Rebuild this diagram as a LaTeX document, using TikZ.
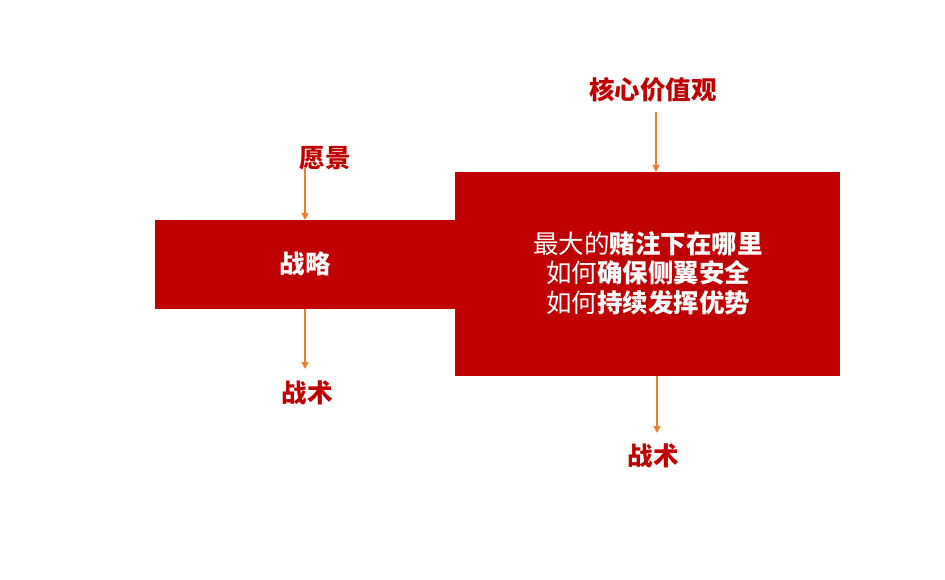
\documentclass[tikz,border=0pt]{standalone}
\usepackage{fontspec}
\newfontfamily\cjk{Noto Sans CJK SC}
\usetikzlibrary{arrows.meta}
\definecolor{boxred}{HTML}{C00000}
\definecolor{arrow}{HTML}{ED7D31}
\begin{document}
\begin{tikzpicture}[x=1pt,y=-1pt,
  redbox/.style={fill=boxred,draw=none,inner sep=0pt,outer sep=0pt},
  lbl/.style={text=boxred,font=\cjk\bfseries\fontsize{25.5}{28}\selectfont,inner sep=0pt},
  inlbl/.style={text=white,font=\cjk\fontsize{25.5}{29.5}\selectfont,align=center,inner sep=0pt},
  conn/.style={draw=arrow,line width=1.3pt,-{Triangle[width=7pt,length=7pt]}}]
\useasboundingbox (0,0) rectangle (945,580);
\fill[redbox] (155,220) rectangle (456,309);
\fill[redbox] (455,172) rectangle (840,376);
\coordinate (lt) at (305,220);
\coordinate (lb) at (305,309);
\coordinate (rt) at (656,172);
\coordinate (rb) at (657,376);
\node[inlbl,font=\cjk\bfseries\fontsize{25.5}{28}\selectfont] (zl) at (305,264) {战略};
\node[inlbl] (main) at (648,273) {最大的\textbf{赌注下在哪里}\\如何\textbf{确保侧翼安全}\\如何\textbf{持续发挥优势}};
\node[lbl] (yj) at (325,158) {愿景};
\node[lbl] (zs1) at (307,393) {战术};
\node[lbl] (hx) at (653,90) {核心价值观};
\node[lbl] (zs2) at (653,456) {战术};
\coordinate (yja) at (305,168);
\coordinate (hxa) at (656,112);
\coordinate (lbe) at (305,369);
\coordinate (rbe) at (657,433);
\draw[conn] (yja) -- (lt);
\draw[conn] (lb) -- (lbe);
\draw[conn] (hxa) -- (rt);
\draw[conn] (rb) -- (rbe);
\end{tikzpicture}
\end{document}
